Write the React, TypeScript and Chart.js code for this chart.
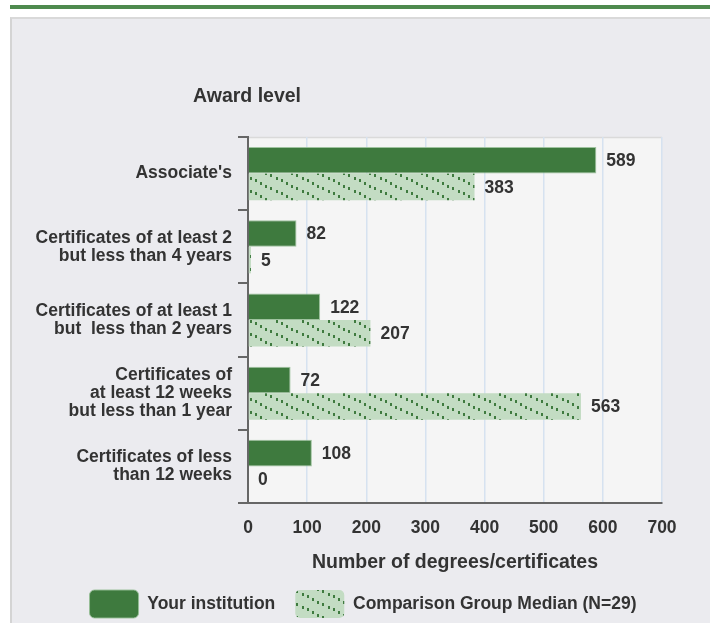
import { useEffect, useRef } from 'react';
import { Chart, registerables } from 'chart.js';

Chart.register(...registerables);

const categories: (string | string[])[] = [
  "Associate's",
  ['Certificates of at least 2', 'but less than 4 years'],
  ['Certificates of at least 1', 'but  less than 2 years'],
  ['Certificates of', 'at least 12 weeks', 'but less than 1 year'],
  ['Certificates of less', 'than 12 weeks'],
];
const yourInstitution = [589, 82, 122, 72, 108];
const comparisonMedian = [383, 5, 207, 563, 0];
const seriesNames = ['Your institution', 'Comparison Group Median (N=29)'];
const xMin = 0;
const xMax = 700;
const xStep = 100;
const yAxisTitle = 'Award level';
const xAxisTitle = 'Number of degrees/certificates';

const FONT = '"Liberation Sans", Arial, Helvetica, sans-serif';
const TEXT = '#333333';
const GREEN = '#3e7a3e';

function makePattern(): CanvasPattern | string {
  const w = 26;
  const h = 13;
  const c = document.createElement('canvas');
  c.width = w;
  c.height = h;
  const g = c.getContext('2d');
  if (!g) return '#c3dcc3';
  g.fillStyle = '#c3dcc3';
  g.fillRect(0, 0, w, h);
  g.fillStyle = '#3f7b3f';
  const n = 5;
  for (let k = 0; k < n; k++) {
    const x = (k * w) / n;
    const y = x / 2;
    g.fillRect(Math.round(x), Math.round(y), 2, 3);
  }
  return g.createPattern(c, 'repeat') || '#c3dcc3';
}

const titlePlugin = {
  id: 'awardTitle',
  afterDraw(chart: any) {
    const { ctx, chartArea } = chart;
    ctx.save();
    ctx.font = `bold 19.5px ${FONT}`;
    ctx.fillStyle = TEXT;
    ctx.textAlign = 'left';
    ctx.textBaseline = 'middle';
    ctx.fillText(yAxisTitle, chartArea.left - 55, chartArea.top - 40);
    ctx.restore();
  },
};

const bgPlugin = {
  id: 'plotBg',
  beforeDraw(chart: any) {
    const { ctx, chartArea } = chart;
    ctx.save();
    ctx.fillStyle = '#f5f5f5';
    ctx.fillRect(chartArea.left, chartArea.top, chartArea.right - chartArea.left, chartArea.bottom - chartArea.top);
    ctx.strokeStyle = '#dadada';
    ctx.lineWidth = 1.5;
    ctx.beginPath();
    ctx.moveTo(chartArea.left, chartArea.top + 0.5);
    ctx.lineTo(chartArea.right, chartArea.top + 0.5);
    ctx.stroke();
    ctx.restore();
  },
};

const labelPlugin = {
  id: 'valueLabels',
  afterDatasetsDraw(chart: any) {
    const { ctx } = chart;
    ctx.save();
    ctx.font = `bold 17.5px ${FONT}`;
    ctx.fillStyle = TEXT;
    ctx.textAlign = 'left';
    ctx.textBaseline = 'middle';
    chart.data.datasets.forEach((ds: any, i: number) => {
      const meta = chart.getDatasetMeta(i);
      meta.data.forEach((el: any, j: number) => {
        ctx.fillText(String(ds.data[j]), el.x + 10, el.y + 1);
      });
    });
    ctx.restore();
  },
};

export default function App() {
  const ref = useRef<HTMLCanvasElement | null>(null);

  useEffect(() => {
    if (!ref.current) return;
    const pattern = makePattern();
    const chart = new Chart(ref.current, {
      type: 'bar',
      data: {
        labels: categories,
        datasets: [
          {
            label: seriesNames[0],
            data: yourInstitution,
            backgroundColor: GREEN,
            borderColor: 'rgba(150,190,150,0.9)',
            borderWidth: 1,
            categoryPercentage: 0.725,
            barPercentage: 1,
          },
          {
            label: seriesNames[1],
            data: comparisonMedian,
            backgroundColor: pattern as any,
            borderColor: 'rgba(0,0,0,0)',
            borderWidth: 0,
            categoryPercentage: 0.725,
            barPercentage: 1,
          },
        ],
      },
      options: {
        indexAxis: 'y',
        animation: false,
        responsive: false,
        devicePixelRatio: 1,
        layout: { padding: { top: 137, left: 16, right: 0, bottom: 0 } },
        plugins: {
          tooltip: { enabled: false },
          title: { display: false },
          legend: {
            position: 'bottom',
            align: 'center',
            labels: {
              boxWidth: 49,
              boxHeight: 28,
              padding: 20,
              useBorderRadius: true,
              borderRadius: 5,
              color: TEXT,
              font: { family: FONT, size: 17.5, weight: 'bold' },
            },
          },
        },
        scales: {
          x: {
            type: 'linear',
            position: 'bottom',
            min: xMin,
            max: xMax,
            ticks: {
              stepSize: xStep,
              color: TEXT,
              padding: 15,
              font: { family: FONT, size: 17.5, weight: 'bold' },
            },
            grid: { color: '#d6e2f0', lineWidth: 1.5, drawTicks: false },
            border: { color: '#666666', width: 2 },
            title: {
              display: true,
              text: xAxisTitle,
              color: TEXT,
              font: { family: FONT, size: 19.5, weight: 'bold', lineHeight: '18px' },
              padding: { top: 0, bottom: -2 },
            },
            afterFit(scale: any) {
              scale.height = 67;
            },
          },
          y: {
            type: 'category',
            position: 'left',
            offset: true,
            ticks: {
              color: TEXT,
              padding: 6,
              font: { family: FONT, size: 17.5, weight: 'bold', lineHeight: '18px' },
            },
            grid: {
              offset: true,
              drawOnChartArea: false,
              drawTicks: true,
              tickLength: 10,
              color: '#666666',
              lineWidth: 2,
            },
            border: { color: '#666666', width: 2 },
            afterFit(scale: any) {
              scale.width = 232;
            },
          },
          yRight: {
            type: 'linear',
            position: 'right',
            display: true,
            min: 0,
            max: 1,
            ticks: { display: false },
            grid: { display: false },
            border: { display: false },
            afterFit(scale: any) {
              scale.width = 48;
            },
          },
        },
      } as any,
      plugins: [bgPlugin, labelPlugin, titlePlugin],
    });
    return () => chart.destroy();
  }, []);

  return (
    <div style={{ position: 'absolute', left: 0, top: 0, width: 710, height: 623, overflow: 'hidden', background: '#ffffff' }}>
      <div style={{ position: 'absolute', left: 10, top: 5, width: 700, height: 4, background: '#4e8a4e' }} />
      <div
        style={{
          position: 'absolute',
          left: 10,
          top: 17,
          width: 720,
          height: 620,
          background: '#ebebef',
          borderLeft: '2px solid #d4d4d4',
          borderTop: '2px solid #d9d9d9',
          boxSizing: 'border-box',
        }}
      />
      <canvas
        ref={ref}
        width={710}
        height={628}
        style={{ position: 'absolute', left: 0, top: 0, width: 710, height: 628 }}
      />
    </div>
  );
}
